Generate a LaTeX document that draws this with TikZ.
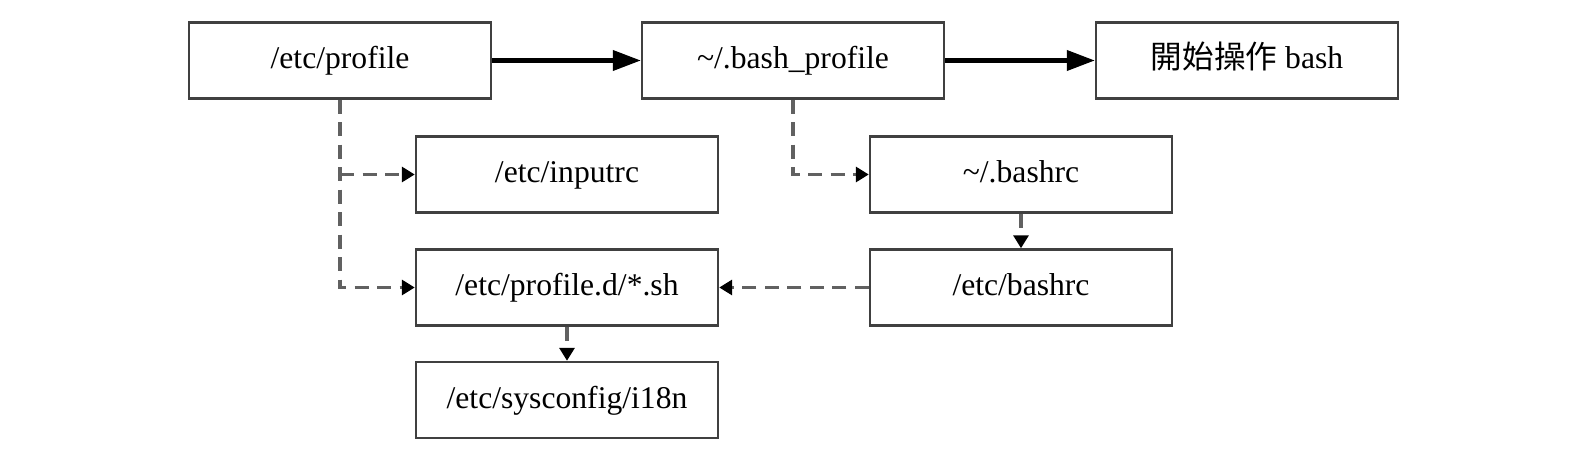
\documentclass[tikz,border=0pt]{standalone}
\usepackage{fontspec}
\setmainfont{Liberation Serif}
\newfontfamily\cjk{Noto Sans CJK TC}
\usetikzlibrary{arrows.meta}

\begin{document}
\begin{tikzpicture}[
  file/.style={draw=black!75, line width=1.4pt, minimum width=6.04cm, minimum height=1.52cm, inner sep=0pt, text height=1.15em, text depth=0.2em, font=\fontsize{18}{22}\selectfont},
  main/.style={line width=2.3pt, -{Triangle[length=0.56cm, width=0.4cm]}},
  calls/.style={draw=black!62, line width=1.8pt, dash pattern=on 0.28cm off 0.17cm, -{Triangle[length=0.26cm, width=0.3cm, color=black]}}]
\useasboundingbox (0,0) rectangle (31.68,9);
\node[file] (p) at (6.80, 7.79) {/etc/profile}; \node[file] (bp) at (15.86, 7.79) {\textasciitilde/.bash\_profile};
\node[file] (st) at (24.94, 7.79) {{\cjk 開始操作} bash};
\node[file] (ir) at (11.34, 5.51) {/etc/inputrc}; \node[file] (br) at (20.42, 5.51) {\textasciitilde/.bashrc};
\node[file] (pd) at (11.34, 3.25) {/etc/profile.d/*.sh}; \node[file] (eb) at (20.42, 3.25) {/etc/bashrc};
\node[file] (in) at (11.34, 1.00) {/etc/sysconfig/i18n};
\draw[main] (p) to (bp);
\draw[main] (bp) to (st);

\draw[calls] (p.south) |- (pd.west);
\draw[calls] (p.south |- ir.west) to (ir.west);
\draw[calls] (bp.south) |- (br.west);
\draw[calls] (br) to (eb);
\draw[calls] (eb) to (pd);
\draw[calls] (pd) to (in);
\end{tikzpicture}
\end{document}
